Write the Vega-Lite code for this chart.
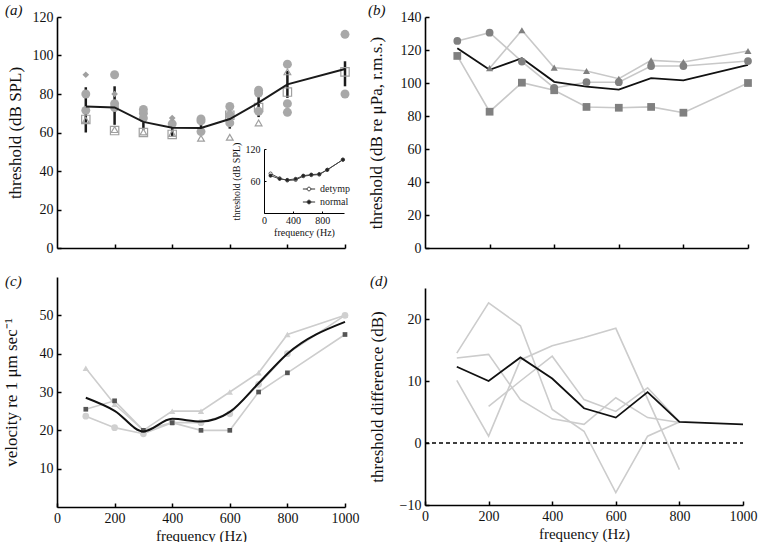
{
  "$schema": "https://vega.github.io/schema/vega-lite/v6.json",
  "background": "white",
  "padding": {"left": 2, "top": 3, "right": 2, "bottom": 2},
  "columns": 2,
  "spacing": {"row": 29, "column": 80},
  "bounds": "flush",
  "align": "each",
  "config": {
    "font": "Liberation Serif",
    "view": {"stroke": null},
    "axis": {
      "grid": false,
      "domainColor": "#000",
      "domainWidth": 1.6,
      "tickColor": "#000",
      "tickWidth": 1.5,
      "tickSize": -4,
      "labelPadding": 8,
      "labelFont": "Liberation Serif",
      "labelFontSize": 14,
      "labelColor": "#111",
      "labelFlush": false,
      "labelOverlap": false,
      "format": "d",
      "titleFont": "Liberation Serif",
      "titleFontSize": 17,
      "titleFontWeight": "normal",
      "titleColor": "#111"
    },
    "title": {
      "font": "Liberation Serif",
      "fontSize": 15,
      "fontStyle": "italic",
      "fontWeight": "normal",
      "anchor": "start",
      "frame": "group",
      "color": "#111"
    },
    "legend": {"labelFont": "Liberation Serif"}
  },
  "datasets": {
    "a_mean": [
      {"f": 100, "v": 73.5, "lo": 60, "hi": 83.5},
      {"f": 200, "v": 73, "lo": 64, "hi": 84},
      {"f": 300, "v": 65.5, "lo": 61.5, "hi": 69.5},
      {"f": 400, "v": 62.5, "lo": 58, "hi": 68},
      {"f": 500, "v": 62.3, "lo": 59.5, "hi": 65.5},
      {"f": 600, "v": 67, "lo": 62, "hi": 72},
      {"f": 700, "v": 75.5, "lo": 68, "hi": 83},
      {"f": 800, "v": 85, "lo": 78, "hi": 92},
      {"f": 1000, "v": 93, "lo": 84, "hi": 97}
    ],
    "a_pts": [
      {"f": 100, "v": 80, "k": "circle"}, {"f": 100, "v": 71.5, "k": "circle"},
      {"f": 200, "v": 90, "k": "circle"}, {"f": 200, "v": 75, "k": "circle"}, {"f": 200, "v": 73, "k": "circle"},
      {"f": 300, "v": 72, "k": "circle"}, {"f": 300, "v": 70, "k": "circle"}, {"f": 300, "v": 67.5, "k": "circle"},
      {"f": 400, "v": 64.5, "k": "circle"},
      {"f": 500, "v": 67, "k": "circle"}, {"f": 500, "v": 66, "k": "circle"}, {"f": 500, "v": 60.5, "k": "circle"},
      {"f": 600, "v": 73.5, "k": "circle"}, {"f": 600, "v": 69, "k": "circle"}, {"f": 600, "v": 65, "k": "circle"},
      {"f": 700, "v": 82, "k": "circle"}, {"f": 700, "v": 80.5, "k": "circle"}, {"f": 700, "v": 71, "k": "circle"},
      {"f": 800, "v": 95.5, "k": "circle"}, {"f": 800, "v": 75, "k": "circle"}, {"f": 800, "v": 70.5, "k": "circle"},
      {"f": 1000, "v": 111, "k": "circle"}, {"f": 1000, "v": 80, "k": "circle"},
      {"f": 100, "v": 90, "k": "diamond"}, {"f": 200, "v": 80, "k": "diamond"}, {"f": 400, "v": 67.5, "k": "diamond"},
      {"f": 100, "v": 66.8, "k": "square"}, {"f": 200, "v": 61, "k": "square"}, {"f": 300, "v": 60, "k": "square"},
      {"f": 400, "v": 59, "k": "square"}, {"f": 600, "v": 69, "k": "square"}, {"f": 700, "v": 73, "k": "square"},
      {"f": 800, "v": 81, "k": "square"}, {"f": 1000, "v": 91.5, "k": "square"},
      {"f": 100, "v": 66.5, "k": "triangle"}, {"f": 200, "v": 61.5, "k": "triangle"}, {"f": 300, "v": 60.3, "k": "triangle"},
      {"f": 400, "v": 59.5, "k": "triangle"}, {"f": 500, "v": 57, "k": "triangle"}, {"f": 600, "v": 57.5, "k": "triangle"},
      {"f": 700, "v": 65, "k": "triangle"}, {"f": 800, "v": 91.5, "k": "triangle"}
    ],
    "inset": [
      {"f": 90, "v": 74, "g": "detymp"}, {"f": 215, "v": 65, "g": "detymp"}, {"f": 320, "v": 61, "g": "detymp"},
      {"f": 435, "v": 62, "g": "detymp"}, {"f": 540, "v": 69, "g": "detymp"}, {"f": 650, "v": 71, "g": "detymp"},
      {"f": 760, "v": 72, "g": "detymp"}, {"f": 870, "v": 81, "g": "detymp"}, {"f": 1085, "v": 100, "g": "detymp"},
      {"f": 90, "v": 70, "g": "normal"}, {"f": 215, "v": 64, "g": "normal"}, {"f": 320, "v": 62, "g": "normal"},
      {"f": 435, "v": 64, "g": "normal"}, {"f": 540, "v": 70, "g": "normal"}, {"f": 650, "v": 72, "g": "normal"},
      {"f": 760, "v": 73, "g": "normal"}, {"f": 870, "v": 81, "g": "normal"}, {"f": 1085, "v": 100, "g": "normal"}
    ],
    "b": [
      {"f": 100, "v": 125.5, "s": "circle"}, {"f": 200, "v": 130.5, "s": "circle"}, {"f": 300, "v": 113, "s": "circle"},
      {"f": 400, "v": 97, "s": "circle"}, {"f": 500, "v": 100.5, "s": "circle"}, {"f": 600, "v": 100.5, "s": "circle"},
      {"f": 700, "v": 110.3, "s": "circle"}, {"f": 800, "v": 110.3, "s": "circle"}, {"f": 1000, "v": 113.3, "s": "circle"},
      {"f": 200, "v": 109, "s": "triangle"}, {"f": 300, "v": 132, "s": "triangle"}, {"f": 400, "v": 109.3, "s": "triangle"},
      {"f": 500, "v": 107.3, "s": "triangle"}, {"f": 600, "v": 102.6, "s": "triangle"}, {"f": 700, "v": 113.7, "s": "triangle"},
      {"f": 800, "v": 112.7, "s": "triangle"}, {"f": 1000, "v": 119.4, "s": "triangle"},
      {"f": 100, "v": 116.4, "s": "square"}, {"f": 200, "v": 82.6, "s": "square"}, {"f": 300, "v": 100.2, "s": "square"},
      {"f": 400, "v": 95.6, "s": "square"}, {"f": 500, "v": 85.5, "s": "square"}, {"f": 600, "v": 85, "s": "square"},
      {"f": 700, "v": 85.5, "s": "square"}, {"f": 800, "v": 82, "s": "square"}, {"f": 1000, "v": 100, "s": "square"},
      {"f": 100, "v": 121, "s": "mean"}, {"f": 200, "v": 108, "s": "mean"}, {"f": 300, "v": 115, "s": "mean"},
      {"f": 400, "v": 100.7, "s": "mean"}, {"f": 500, "v": 97.8, "s": "mean"}, {"f": 600, "v": 96, "s": "mean"},
      {"f": 700, "v": 103, "s": "mean"}, {"f": 800, "v": 101.6, "s": "mean"}, {"f": 1000, "v": 111, "s": "mean"}
    ],
    "c": [
      {"f": 100, "v": 36.2, "s": "triangle"}, {"f": 200, "v": 26.8, "s": "triangle"}, {"f": 300, "v": 20, "s": "triangle"},
      {"f": 400, "v": 25, "s": "triangle"}, {"f": 500, "v": 25, "s": "triangle"}, {"f": 600, "v": 30, "s": "triangle"},
      {"f": 700, "v": 35, "s": "triangle"}, {"f": 800, "v": 45, "s": "triangle"}, {"f": 1000, "v": 50, "s": "triangle"},
      {"f": 100, "v": 25.5, "s": "square"}, {"f": 200, "v": 27.7, "s": "square"}, {"f": 300, "v": 20, "s": "square"},
      {"f": 400, "v": 22, "s": "square"}, {"f": 500, "v": 20, "s": "square"}, {"f": 600, "v": 20, "s": "square"},
      {"f": 700, "v": 30, "s": "square"}, {"f": 800, "v": 35, "s": "square"}, {"f": 1000, "v": 45, "s": "square"},
      {"f": 100, "v": 23.7, "s": "circle"}, {"f": 200, "v": 20.7, "s": "circle"}, {"f": 300, "v": 19.1, "s": "circle"},
      {"f": 400, "v": 22, "s": "circle"}, {"f": 500, "v": 22, "s": "circle"}, {"f": 600, "v": 24.3, "s": "circle"},
      {"f": 700, "v": 32, "s": "circle"}, {"f": 800, "v": 40, "s": "circle"}, {"f": 1000, "v": 50, "s": "circle"},
      {"f": 100, "v": 28.5, "s": "mean"}, {"f": 200, "v": 25.1, "s": "mean"}, {"f": 300, "v": 19.7, "s": "mean"},
      {"f": 400, "v": 23, "s": "mean"}, {"f": 500, "v": 22.3, "s": "mean"}, {"f": 600, "v": 24.8, "s": "mean"},
      {"f": 700, "v": 32.3, "s": "mean"}, {"f": 800, "v": 40, "s": "mean"}, {"f": 1000, "v": 48.3, "s": "mean"}
    ],
    "d": [
      {"f": 100, "v": 14.5, "s": "P"}, {"f": 200, "v": 22.6, "s": "P"}, {"f": 300, "v": 18.9, "s": "P"},
      {"f": 400, "v": 5.4, "s": "P"}, {"f": 500, "v": 1.9, "s": "P"}, {"f": 600, "v": -8, "s": "P"},
      {"f": 700, "v": 1.1, "s": "P"}, {"f": 800, "v": 3.4, "s": "P"},
      {"f": 100, "v": 13.7, "s": "Q"}, {"f": 200, "v": 14.3, "s": "Q"}, {"f": 300, "v": 7.0, "s": "Q"},
      {"f": 400, "v": 3.9, "s": "Q"}, {"f": 500, "v": 3.0, "s": "Q"}, {"f": 600, "v": 7.3, "s": "Q"},
      {"f": 700, "v": 4.1, "s": "Q"}, {"f": 800, "v": 3.3, "s": "Q"},
      {"f": 100, "v": 10.1, "s": "R"}, {"f": 200, "v": 1.1, "s": "R"}, {"f": 300, "v": 13.4, "s": "R"},
      {"f": 400, "v": 15.7, "s": "R"}, {"f": 500, "v": 17.0, "s": "R"}, {"f": 600, "v": 18.5, "s": "R"},
      {"f": 800, "v": -4.3, "s": "R"},
      {"f": 200, "v": 5.9, "s": "S"}, {"f": 300, "v": 10, "s": "S"}, {"f": 400, "v": 14.0, "s": "S"},
      {"f": 500, "v": 7.0, "s": "S"}, {"f": 600, "v": 5.1, "s": "S"}, {"f": 700, "v": 8.9, "s": "S"},
      {"f": 800, "v": 3.4, "s": "S"},
      {"f": 100, "v": 12.3, "s": "mean"}, {"f": 200, "v": 10, "s": "mean"}, {"f": 300, "v": 13.8, "s": "mean"},
      {"f": 400, "v": 10.4, "s": "mean"}, {"f": 500, "v": 5.6, "s": "mean"}, {"f": 600, "v": 4.1, "s": "mean"},
      {"f": 700, "v": 8.2, "s": "mean"}, {"f": 800, "v": 3.4, "s": "mean"}, {"f": 1000, "v": 3.0, "s": "mean"}
    ],
    "d_zero": [
      {"fa": 0, "fb": 1000, "level": 0}
    ]
  },
  "concat": [
    {
      "width": 288,
      "height": 231,
      "title": {"text": "(a)", "dx": -52, "offset": -8},
      "layer": [
        {
          "encoding": {
            "x": {"field": "f", "type": "quantitative", "scale": {"domain": [0, 1000], "nice": false},
                  "axis": {"values": [200, 400, 600, 800, 1000], "labels": false, "title": null}},
            "y": {"field": "v", "type": "quantitative", "scale": {"domain": [0, 120], "nice": false},
                  "axis": {"values": [0, 20, 40, 60, 80, 100, 120], "title": "threshold (dB SPL)", "titlePadding": 8}}
          },
          "layer": [
            {
              "data": {"name": "a_mean"},
              "mark": {"type": "rule", "color": "#1a1a1a", "strokeWidth": 2.5},
              "encoding": {
                "y": {"field": "lo", "type": "quantitative", "scale": {"domain": [0, 120], "nice": false},
                      "axis": {"values": [0, 20, 40, 60, 80, 100, 120], "title": "threshold (dB SPL)", "titlePadding": 8}},
                "y2": {"field": "hi"}
              }
            },
            {
              "data": {"name": "a_pts"},
              "transform": [{"filter": "datum.k === 'square'"}],
              "mark": {"type": "point", "shape": "square", "filled": false, "stroke": "#a0a0a0", "strokeWidth": 1.2, "size": 70, "opacity": 1}
            },
            {
              "data": {"name": "a_pts"},
              "transform": [{"filter": "datum.k === 'triangle'"}],
              "mark": {"type": "point", "shape": "triangle-up", "filled": false, "stroke": "#a0a0a0", "strokeWidth": 1.2, "size": 45, "opacity": 1}
            },
            {
              "data": {"name": "a_pts"},
              "transform": [{"filter": "datum.k === 'circle'"}],
              "mark": {"type": "circle", "color": "#a8a8a8", "size": 80, "opacity": 1}
            },
            {
              "data": {"name": "a_pts"},
              "transform": [{"filter": "datum.k === 'diamond'"}],
              "mark": {"type": "point", "shape": "diamond", "filled": true, "color": "#a0a0a0", "size": 45, "opacity": 1}
            },
            {
              "data": {"name": "a_mean"},
              "mark": {"type": "line", "color": "#1a1a1a", "strokeWidth": 2}
            }
          ]
        },
        {
          "data": {"name": "inset"},
          "encoding": {
            "x": {"field": "f", "type": "quantitative",
                  "scale": {"domain": [0, 1100], "range": [207, 287], "nice": false},
                  "axis": {"orient": "bottom", "offset": -35, "values": [0, 400, 800], "title": "frequency (Hz)",
                           "labelFontSize": 10, "titleFontSize": 10, "tickSize": -2, "labelPadding": 4, "titlePadding": 2,
                           "domainWidth": 1, "tickWidth": 1}},
            "y": {"field": "v", "type": "quantitative",
                  "scale": {"domain": [0, 120], "range": [196, 132], "nice": false},
                  "axis": {"orient": "left", "offset": -207, "values": [60, 120], "title": "threshold (dB SPL)",
                           "labelFontSize": 10, "titleFontSize": 10, "tickSize": -2, "labelPadding": 6, "titlePadding": 4,
                           "domainWidth": 1, "tickWidth": 1}}
          },
          "layer": [
            {
              "mark": {"type": "line", "color": "#444", "strokeWidth": 1},
              "encoding": {"detail": {"field": "g"}}
            },
            {
              "mark": {"type": "point", "shape": "circle", "filled": true, "stroke": "#333", "strokeWidth": 0.8, "size": 10, "opacity": 1},
              "encoding": {
                "fill": {"field": "g", "type": "nominal",
                         "scale": {"domain": ["detymp", "normal"], "range": ["#ffffff", "#222222"]},
                         "legend": {"orient": "none", "legendX": 245, "legendY": 165, "title": null,
                                    "labelFontSize": 10, "labelColor": "#222", "labelOffset": 4,
                                    "symbolType": "M-1,0H-0.3M0.3,0H1M-0.3,0A0.3,0.3 0 1,0 0.3,0A0.3,0.3 0 1,0 -0.3,0Z",
                                    "symbolSize": 150, "symbolStrokeColor": "#333", "symbolStrokeWidth": 1, "rowPadding": 1}}
              }
            }
          ]
        }
      ],
      "resolve": {"scale": {"x": "independent", "y": "independent"}, "axis": {"x": "independent", "y": "independent"}}
    },
    {
      "width": 323,
      "height": 231,
      "title": {"text": "(b)", "dx": -57, "offset": -8},
      "data": {"name": "b"},
      "encoding": {
        "x": {"field": "f", "type": "quantitative", "scale": {"domain": [0, 1000], "nice": false},
              "axis": {"values": [200, 400, 600, 800, 1000], "labels": false, "title": null}},
        "y": {"field": "v", "type": "quantitative", "scale": {"domain": [0, 140], "nice": false},
              "axis": {"values": [0, 20, 40, 60, 80, 100, 120, 140], "title": "threshold (dB re μPa, r.m.s.)", "titlePadding": 15}}
      },
      "layer": [
        {
          "transform": [{"filter": "datum.s !== 'mean'"}],
          "mark": {"type": "line", "color": "#c8c8c8", "strokeWidth": 1.6},
          "encoding": {"detail": {"field": "s"}}
        },
        {
          "transform": [{"filter": "datum.s === 'mean'"}],
          "mark": {"type": "line", "color": "#111", "strokeWidth": 1.8}
        },
        {
          "transform": [{"filter": "datum.s === 'circle'"}],
          "mark": {"type": "circle", "color": "#808080", "size": 60, "opacity": 1}
        },
        {
          "transform": [{"filter": "datum.s === 'triangle'"}],
          "mark": {"type": "point", "shape": "triangle-up", "filled": true, "color": "#808080", "size": 50, "opacity": 1}
        },
        {
          "transform": [{"filter": "datum.s === 'square'"}],
          "mark": {"type": "square", "color": "#808080", "size": 60, "opacity": 1}
        }
      ]
    },
    {
      "width": 288,
      "height": 230,
      "title": {"text": "(c)", "dx": -52, "offset": -12},
      "data": {"name": "c"},
      "encoding": {
        "x": {"field": "f", "type": "quantitative", "scale": {"domain": [0, 1000], "nice": false},
              "axis": {"values": [0, 200, 400, 600, 800, 1000], "title": "frequency (Hz)", "titleFontSize": 15, "titlePadding": 3}},
        "y": {"field": "v", "type": "quantitative", "scale": {"domain": [0, 60], "nice": false},
              "axis": {"values": [10, 20, 30, 40, 50], "title": "velocity re 1 μm sec⁻¹", "titlePadding": 19}}
      },
      "layer": [
        {
          "transform": [{"filter": "datum.s !== 'mean'"}],
          "mark": {"type": "line", "color": "#cdcdcd", "strokeWidth": 1.6},
          "encoding": {"detail": {"field": "s"}}
        },
        {
          "transform": [{"filter": "datum.s === 'triangle'"}],
          "mark": {"type": "point", "shape": "triangle-up", "filled": true, "color": "#cfcfcf", "size": 40, "opacity": 1}
        },
        {
          "transform": [{"filter": "datum.s === 'circle'"}],
          "mark": {"type": "circle", "color": "#d0d0d0", "size": 45, "opacity": 1}
        },
        {
          "transform": [{"filter": "datum.s === 'square'"}],
          "mark": {"type": "square", "color": "#555555", "size": 22, "opacity": 1}
        },
        {
          "transform": [{"filter": "datum.s === 'mean'"}],
          "mark": {"type": "line", "color": "#111", "strokeWidth": 2, "interpolate": "monotone"}
        }
      ]
    },
    {
      "width": 318,
      "height": 228,
      "title": {"text": "(d)", "dx": -55, "offset": -12},
      "layer": [
        {
          "data": {"name": "d"},
          "transform": [{"filter": "datum.s !== 'mean'"}],
          "mark": {"type": "line", "color": "#cccccc", "strokeWidth": 1.6},
          "encoding": {
            "x": {"field": "f", "type": "quantitative", "scale": {"domain": [0, 1000], "nice": false},
                  "axis": {"values": [0, 200, 400, 600, 800, 1000], "title": "frequency (Hz)", "titleFontSize": 15, "titlePadding": 3}},
            "y": {"field": "v", "type": "quantitative", "scale": {"domain": [-10, 25], "range": [228, 11], "nice": false, "zero": false},
                  "axis": {"values": [-10, 0, 10, 20], "title": "threshold difference (dB)", "titlePadding": 13}},
            "detail": {"field": "s"}
          }
        },
        {
          "data": {"name": "d"},
          "transform": [{"filter": "datum.s === 'mean'"}],
          "mark": {"type": "line", "color": "#111", "strokeWidth": 1.8},
          "encoding": {
            "x": {"field": "f", "type": "quantitative"},
            "y": {"field": "v", "type": "quantitative"}
          }
        },
        {
          "data": {"name": "d_zero"},
          "mark": {"type": "rule", "color": "#000", "strokeWidth": 1.5, "strokeDash": [4, 3]},
          "encoding": {
            "x": {"field": "fa", "type": "quantitative"},
            "x2": {"field": "fb"},
            "y": {"field": "level", "type": "quantitative"}
          }
        }
      ]
    }
  ]
}
